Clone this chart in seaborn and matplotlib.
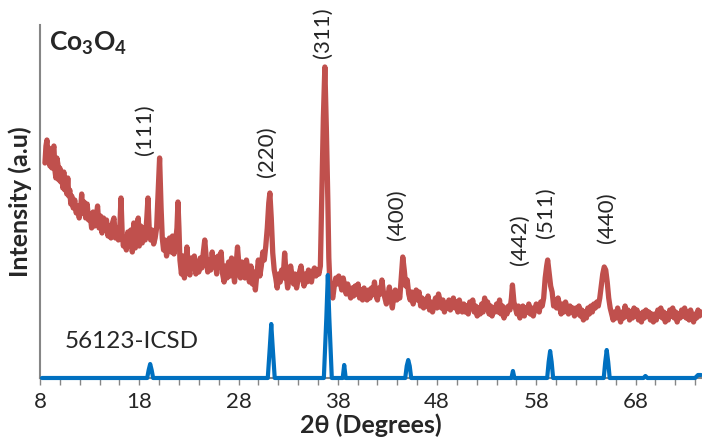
"""XRD pattern of Co3O4 with the 56123-ICSD reference pattern underneath."""

import matplotlib

matplotlib.use("Agg")
import matplotlib.pyplot as plt
import numpy as np
import pandas as pd
import seaborn as sns

sample_two_theta = [
    8.5, 8.6, 8.7, 8.8, 8.9, 9.0, 9.1, 9.2, 9.3, 9.4,
    9.5, 9.6, 9.7, 9.8, 9.9, 10.0, 10.1, 10.2, 10.3, 10.4,
    10.5, 10.6, 10.7, 10.8, 10.9, 11.0, 11.1, 11.2, 11.35, 11.5,
    11.65, 11.8, 11.95, 12.1, 12.2, 12.3, 12.45, 12.6, 12.75, 12.9,
    13.05, 13.2, 13.35, 13.5, 13.65, 13.8, 13.95, 14.1, 14.25, 14.4,
    14.55, 14.7, 14.85, 15.0, 15.15, 15.3, 15.45, 15.6, 15.75, 15.9,
    16.05, 16.16, 16.28, 16.4, 16.55, 16.7, 16.85, 17.0, 17.15, 17.3,
    17.45, 17.6, 17.75, 17.9, 18.0, 18.15, 18.3, 18.45, 18.6, 18.75,
    18.88, 19.0, 19.15, 19.3, 19.45, 19.6, 19.75, 19.9, 20.05, 20.2,
    20.32, 20.45, 20.6, 20.75, 20.9, 21.05, 21.2, 21.35, 21.5, 21.65,
    21.8, 21.9, 22.0, 22.1, 22.25, 22.4, 22.55, 22.7, 22.8, 22.95,
    23.1, 23.25, 23.4, 23.55, 23.7, 23.85, 24.0, 24.15, 24.3, 24.45,
    24.6, 24.75, 24.9, 25.05, 25.2, 25.35, 25.5, 25.65, 25.8, 25.95,
    26.1, 26.25, 26.4, 26.55, 26.7, 26.85, 27.0, 27.15, 27.3, 27.45,
    27.6, 27.75, 27.9, 28.05, 28.2, 28.35, 28.5, 28.65, 28.8, 28.95,
    29.1, 29.25, 29.4, 29.55, 29.7, 29.85, 30.0, 30.15, 30.3, 30.45,
    30.6, 30.75, 30.9, 31.05, 31.16, 31.3, 31.45, 31.6, 31.75, 31.9,
    32.05, 32.2, 32.35, 32.5, 32.65, 32.8, 32.95, 33.1, 33.25, 33.4,
    33.55, 33.7, 33.85, 34.0, 34.15, 34.3, 34.45, 34.6, 34.75, 34.9,
    35.05, 35.2, 35.35, 35.5, 35.65, 35.8, 35.95, 36.1, 36.25, 36.4,
    36.55, 36.7, 36.85, 37.0, 37.1, 37.2, 37.35, 37.5, 37.65, 37.8,
    37.95, 38.1, 38.25, 38.4, 38.55, 38.7, 38.85, 39.0, 39.15, 39.3,
    39.45, 39.6, 39.75, 39.9, 40.05, 40.2, 40.35, 40.5, 40.65, 40.8,
    40.95, 41.1, 41.25, 41.4, 41.55, 41.7, 41.85, 42.0, 42.15, 42.3,
    42.45, 42.6, 42.75, 42.9, 43.05, 43.2, 43.35, 43.5, 43.65, 43.8,
    43.95, 44.1, 44.25, 44.4, 44.55, 44.7, 44.85, 45.0, 45.15, 45.3,
    45.45, 45.6, 45.75, 45.9, 46.05, 46.2, 46.35, 46.5, 46.65, 46.8,
    46.95, 47.1, 47.25, 47.4, 47.55, 47.7, 47.85, 48.0, 48.15, 48.3,
    48.45, 48.6, 48.75, 48.9, 49.05, 49.2, 49.35, 49.5, 49.65, 49.8,
    49.95, 50.1, 50.25, 50.4, 50.55, 50.7, 50.85, 51.0, 51.15, 51.3,
    51.45, 51.6, 51.75, 51.9, 52.05, 52.2, 52.35, 52.5, 52.65, 52.8,
    52.95, 53.1, 53.25, 53.4, 53.55, 53.7, 53.85, 54.0, 54.15, 54.3,
    54.45, 54.6, 54.75, 54.9, 55.05, 55.2, 55.35, 55.5, 55.6, 55.75,
    55.9, 56.05, 56.2, 56.35, 56.5, 56.65, 56.8, 56.95, 57.1, 57.25,
    57.4, 57.55, 57.7, 57.85, 58.0, 58.15, 58.3, 58.45, 58.6, 58.75,
    58.9, 59.05, 59.15, 59.3, 59.45, 59.6, 59.75, 59.9, 60.05, 60.2,
    60.35, 60.5, 60.65, 60.8, 60.95, 61.1, 61.25, 61.4, 61.55, 61.7,
    61.85, 62.0, 62.15, 62.3, 62.45, 62.6, 62.75, 62.9, 63.05, 63.2,
    63.35, 63.5, 63.65, 63.8, 63.95, 64.1, 64.25, 64.4, 64.55, 64.7,
    64.85, 65.0, 65.15, 65.3, 65.45, 65.6, 65.75, 65.9, 66.05, 66.2,
    66.35, 66.5, 66.65, 66.8, 66.95, 67.1, 67.25, 67.4, 67.55, 67.7,
    67.85, 68.0, 68.15, 68.3, 68.45, 68.6, 68.75, 68.9, 69.05, 69.2,
    69.35, 69.5, 69.65, 69.8, 69.95, 70.1, 70.25, 70.4, 70.55, 70.7,
    70.85, 71.0, 71.15, 71.3, 71.45, 71.6, 71.75, 71.9, 72.05, 72.2,
    72.35, 72.5, 72.65, 72.8, 72.95, 73.1, 73.25, 73.4, 73.55, 73.7,
    73.85, 74.0, 74.15, 74.3, 74.45, 74.6,
]
sample_intensity = [
    215, 232, 238, 222, 230, 212, 224, 210, 228, 232,
    208, 200, 220, 214, 198, 210, 196, 204, 190, 206,
    188, 196, 184, 200, 182, 188, 174, 182, 170, 178,
    165, 172, 160, 170, 184, 165, 176, 160, 174, 158,
    164, 150, 166, 152, 160, 172, 150, 162, 145, 160,
    148, 158, 142, 152, 140, 155, 160, 140, 150, 138,
    152, 180, 145, 132, 140, 128, 146, 132, 148, 126,
    155, 130, 150, 160, 132, 152, 135, 150, 138, 158,
    180, 150, 138, 148, 134, 140, 150, 185, 220, 170,
    140, 128, 138, 122, 132, 140, 126, 142, 124, 135,
    150, 176, 150, 118, 104, 122, 100, 115, 131, 110,
    103, 120, 112, 122, 104, 116, 106, 120, 110, 125,
    138, 120, 106, 118, 108, 126, 112, 120, 104, 122,
    112, 126, 104, 96, 112, 100, 116, 102, 120, 108,
    96, 112, 131, 112, 100, 116, 106, 100, 118, 108,
    96, 112, 94, 106, 88, 104, 118, 102, 112, 126,
    118, 132, 150, 175, 185, 160, 125, 108, 100, 90,
    104, 96, 108, 100, 125, 104, 90, 100, 112, 102,
    94, 104, 90, 98, 106, 112, 100, 92, 104, 96,
    108, 100, 96, 106, 110, 102, 108, 104, 112, 185,
    260, 311, 250, 178, 120, 96, 84, 80, 92, 100,
    94, 102, 96, 88, 100, 92, 84, 94, 86, 80,
    90, 82, 92, 84, 94, 80, 88, 78, 90, 84,
    78, 88, 80, 90, 84, 96, 82, 78, 90, 84,
    98, 86, 80, 74, 82, 91, 80, 70, 82, 88,
    78, 84, 80, 100, 121, 108, 92, 98, 84, 78,
    86, 74, 82, 88, 78, 86, 72, 80, 70, 78,
    72, 82, 68, 76, 66, 74, 80, 70, 84, 78,
    70, 78, 66, 74, 70, 78, 68, 74, 80, 70,
    76, 66, 78, 72, 66, 74, 66, 72, 64, 76,
    70, 78, 66, 72, 62, 70, 64, 74, 66, 80,
    70, 76, 64, 72, 62, 70, 66, 74, 66, 78,
    64, 72, 60, 70, 64, 72, 68, 80, 93, 76,
    70, 64, 72, 60, 66, 72, 62, 70, 66, 74,
    64, 70, 62, 68, 74, 70, 66, 76, 72, 80,
    100, 112, 118, 105, 92, 86, 72, 78, 70, 80,
    72, 64, 74, 66, 76, 70, 64, 72, 66, 70,
    62, 70, 64, 72, 62, 68, 58, 66, 60, 70,
    64, 72, 66, 74, 70, 76, 72, 80, 92, 104,
    111, 108, 96, 80, 70, 64, 58, 66, 60, 70,
    62, 56, 66, 60, 72, 62, 68, 58, 66, 60,
    70, 62, 68, 58, 64, 56, 66, 60, 68, 62,
    66, 58, 64, 56, 64, 58, 68, 62, 70, 60,
    66, 56, 64, 58, 68, 62, 70, 60, 66, 56,
    64, 60, 68, 62, 70, 60, 66, 58, 68, 62,
    56, 64, 60, 68, 62, 66,
]

# reference pattern 56123-ICSD
reference_two_theta = [
    8.2, 18.8, 18.95, 19.1, 19.25, 19.4, 30.95, 31.15, 31.3, 31.45, 31.65,
    36.6, 36.85, 37.0, 37.15, 37.4, 38.5, 38.65, 38.8, 44.8, 44.95, 45.1,
    45.25, 45.4, 55.5, 55.65, 55.8, 59.1, 59.25, 59.4, 59.55, 59.7, 64.8,
    64.95, 65.1, 65.25, 65.4, 68.8, 69.0, 69.2, 74.0, 74.3, 74.6,
]
reference_intensity = [
    0, 0, 8, 14, 8, 0, 0, 30, 54, 30, 0,
    0, 60, 103, 60, 0, 0, 13, 0, 0, 12, 18,
    12, 0, 0, 7, 0, 0, 16, 27, 16, 0, 0,
    16, 28, 16, 0, 0, 2, 0, 0, 3, 3,
]

peak_labels = ["(111)", "(220)", "(311)", "(400)", "(442)", "(511)", "(440)"]
peak_label_x = [18.6, 30.85, 36.5, 44.0, 56.3, 58.95, 65.1]
peak_label_y = [223, 201, 320, 138, 113, 140, 135]

sample_df = pd.DataFrame({"two_theta": sample_two_theta, "intensity": sample_intensity})
reference_df = pd.DataFrame({"two_theta": reference_two_theta, "intensity": reference_intensity})

sns.set_style("white")
plt.rcParams["font.family"] = ["Lato", "DejaVu Sans"]
plt.rcParams["mathtext.default"] = "regular"

figure = plt.figure(figsize=(7.02, 4.47), dpi=100)
axis = figure.add_axes([40 / 702, 1 - 378 / 447, 662 / 702, 353 / 447])

sns.lineplot(data=sample_df, x="two_theta", y="intensity", sort=False, estimator=None,
             color="#C0504D", linewidth=3.8, ax=axis)
sns.lineplot(data=reference_df, x="two_theta", y="intensity", sort=False, estimator=None,
             color="#0070C0", linewidth=3.0, ax=axis, clip_on=False, zorder=3)

for label, x_value, y_value in zip(peak_labels, peak_label_x, peak_label_y):
    axis.text(x_value, y_value, label, rotation=90, ha="center", va="bottom", fontsize=16)

axis.text(10.5, 37, "56123-ICSD", ha="left", va="center", fontsize=17.5)
axis.text(8.9, 335, "Co$_3$O$_4$", ha="left", va="center", fontsize=19, fontweight="bold")

axis.set_xlim(8, 74.7)
axis.set_ylim(0, 353)
axis.set_xticks(np.arange(8, 69, 10))
axis.set_xticks(np.arange(8, 75, 2), minor=True)
axis.set_yticks([])
axis.tick_params(axis="x", which="both", direction="out", length=5, width=1,
                 color="#868686", labelsize=16, bottom=True, pad=5)
axis.set_xlabel("2θ (Degrees)", fontsize=18, fontweight="bold", labelpad=1)
axis.set_ylabel("Intensity (a.u)", fontsize=18, fontweight="bold", labelpad=6)

sns.despine(ax=axis)
for side in ("left", "bottom"):
    axis.spines[side].set_color("#868686")
    axis.spines[side].set_linewidth(1.5)

figure.savefig("out.png", dpi=100)
